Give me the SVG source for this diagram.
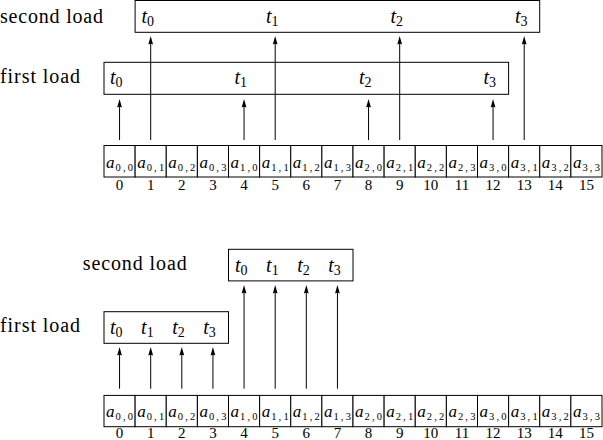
<svg xmlns="http://www.w3.org/2000/svg" width="603" height="440" viewBox="0 0 603 440">
<defs>
<style>
text{font-family:'Liberation Serif','DejaVu Serif',Tinos,'Nimbus Roman','Times New Roman',Times,serif;fill:#000}
.bg{fill:#fff}
.box{fill:none;stroke:#000;stroke-width:1}
.cellr{fill:#fff;stroke:#000;stroke-width:1}
.lbl{font-size:20px}
.t{font-style:italic;font-size:20px}
.ts{font-style:normal;font-size:14px}
.a{font-style:italic;font-size:17px}
.as{font-size:10.5px}
.num{font-size:15px;text-anchor:middle}
.arr{stroke:#000;stroke-width:1;fill:none;marker-end:url(#ah)}
</style>
<marker id="ah" markerUnits="userSpaceOnUse" markerWidth="12" markerHeight="8" viewBox="-5 -4 10 8" refX="0" refY="0" orient="auto">
<path d="M4,0 L-4.5,-2.4 Q-3,0 -4.5,2.4 Z" fill="#000"/>
</marker>
</defs>
<rect class="bg" x="0" y="0" width="603" height="440"/>

<g font-family="Liberation Serif, serif">
<!-- ===== TOP DIAGRAM ===== -->
<g id="top-label-second"><text class="lbl" x="0" y="22.7" textLength="103" lengthAdjust="spacing">second load</text></g>
<g id="top-label-first"><text class="lbl" x="0" y="82.7" textLength="80" lengthAdjust="spacing">first load</text></g>

<g id="top-second-load">
<rect class="box" x="135.1" y="0.5" width="404.6" height="31.8"/>
<text class="t" x="141.5" y="22.7">t<tspan class="ts" dy="3">0</tspan></text>
<text class="t" x="266" y="22.7">t<tspan class="ts" dy="3">1</tspan></text>
<text class="t" x="390.5" y="22.7">t<tspan class="ts" dy="3">2</tspan></text>
<text class="t" x="515" y="22.7">t<tspan class="ts" dy="3">3</tspan></text>
</g>

<g id="top-first-load">
<rect class="box" x="104" y="62.3" width="404.6" height="32"/>
<text class="t" x="110" y="84.3">t<tspan class="ts" dy="3">0</tspan></text>
<text class="t" x="234.5" y="84.3">t<tspan class="ts" dy="3">1</tspan></text>
<text class="t" x="359" y="84.3">t<tspan class="ts" dy="3">2</tspan></text>
<text class="t" x="483.5" y="84.3">t<tspan class="ts" dy="3">3</tspan></text>
</g>

<g id="top-connectors">
<line class="arr" x1="119.56" y1="140" x2="119.56" y2="103"/>
<line class="arr" x1="244.06" y1="140" x2="244.06" y2="103"/>
<line class="arr" x1="368.56" y1="140" x2="368.56" y2="103"/>
<line class="arr" x1="493.06" y1="140" x2="493.06" y2="103"/>
<line class="arr" x1="150.69" y1="140" x2="150.69" y2="40"/>
<line class="arr" x1="275.19" y1="140" x2="275.19" y2="40"/>
<line class="arr" x1="399.69" y1="140" x2="399.69" y2="40"/>
<line class="arr" x1="524.19" y1="140" x2="524.19" y2="40"/>
</g>

<g id="top-array">
<g id="top-cell-0"><rect class="cellr" x="104" y="145.5" width="31.125" height="31.5"/><text class="a" x="106" y="167.5">a</text><text class="as" x="115.5" y="170.5" textLength="17.5" lengthAdjust="spacing">0,0</text><text class="num" x="119.56" y="190.3">0</text></g>
<g id="top-cell-1"><rect class="cellr" x="135.125" y="145.5" width="31.125" height="31.5"/><text class="a" x="137.125" y="167.5">a</text><text class="as" x="146.625" y="170.5" textLength="17.5" lengthAdjust="spacing">0,1</text><text class="num" x="150.69" y="190.3">1</text></g>
<g id="top-cell-2"><rect class="cellr" x="166.25" y="145.5" width="31.125" height="31.5"/><text class="a" x="168.25" y="167.5">a</text><text class="as" x="177.75" y="170.5" textLength="17.5" lengthAdjust="spacing">0,2</text><text class="num" x="181.81" y="190.3">2</text></g>
<g id="top-cell-3"><rect class="cellr" x="197.375" y="145.5" width="31.125" height="31.5"/><text class="a" x="199.375" y="167.5">a</text><text class="as" x="208.875" y="170.5" textLength="17.5" lengthAdjust="spacing">0,3</text><text class="num" x="212.94" y="190.3">3</text></g>
<g id="top-cell-4"><rect class="cellr" x="228.5" y="145.5" width="31.125" height="31.5"/><text class="a" x="230.5" y="167.5">a</text><text class="as" x="240" y="170.5" textLength="17.5" lengthAdjust="spacing">1,0</text><text class="num" x="244.06" y="190.3">4</text></g>
<g id="top-cell-5"><rect class="cellr" x="259.625" y="145.5" width="31.125" height="31.5"/><text class="a" x="261.625" y="167.5">a</text><text class="as" x="271.125" y="170.5" textLength="17.5" lengthAdjust="spacing">1,1</text><text class="num" x="275.19" y="190.3">5</text></g>
<g id="top-cell-6"><rect class="cellr" x="290.75" y="145.5" width="31.125" height="31.5"/><text class="a" x="292.75" y="167.5">a</text><text class="as" x="302.25" y="170.5" textLength="17.5" lengthAdjust="spacing">1,2</text><text class="num" x="306.31" y="190.3">6</text></g>
<g id="top-cell-7"><rect class="cellr" x="321.875" y="145.5" width="31.125" height="31.5"/><text class="a" x="323.875" y="167.5">a</text><text class="as" x="333.375" y="170.5" textLength="17.5" lengthAdjust="spacing">1,3</text><text class="num" x="337.44" y="190.3">7</text></g>
<g id="top-cell-8"><rect class="cellr" x="353" y="145.5" width="31.125" height="31.5"/><text class="a" x="355" y="167.5">a</text><text class="as" x="364.5" y="170.5" textLength="17.5" lengthAdjust="spacing">2,0</text><text class="num" x="368.56" y="190.3">8</text></g>
<g id="top-cell-9"><rect class="cellr" x="384.125" y="145.5" width="31.125" height="31.5"/><text class="a" x="386.125" y="167.5">a</text><text class="as" x="395.625" y="170.5" textLength="17.5" lengthAdjust="spacing">2,1</text><text class="num" x="399.69" y="190.3">9</text></g>
<g id="top-cell-10"><rect class="cellr" x="415.25" y="145.5" width="31.125" height="31.5"/><text class="a" x="417.25" y="167.5">a</text><text class="as" x="426.75" y="170.5" textLength="17.5" lengthAdjust="spacing">2,2</text><text class="num" x="430.81" y="190.3">10</text></g>
<g id="top-cell-11"><rect class="cellr" x="446.375" y="145.5" width="31.125" height="31.5"/><text class="a" x="448.375" y="167.5">a</text><text class="as" x="457.875" y="170.5" textLength="17.5" lengthAdjust="spacing">2,3</text><text class="num" x="461.94" y="190.3">11</text></g>
<g id="top-cell-12"><rect class="cellr" x="477.5" y="145.5" width="31.125" height="31.5"/><text class="a" x="479.5" y="167.5">a</text><text class="as" x="489" y="170.5" textLength="17.5" lengthAdjust="spacing">3,0</text><text class="num" x="493.06" y="190.3">12</text></g>
<g id="top-cell-13"><rect class="cellr" x="508.625" y="145.5" width="31.125" height="31.5"/><text class="a" x="510.625" y="167.5">a</text><text class="as" x="520.125" y="170.5" textLength="17.5" lengthAdjust="spacing">3,1</text><text class="num" x="524.19" y="190.3">13</text></g>
<g id="top-cell-14"><rect class="cellr" x="539.75" y="145.5" width="31.125" height="31.5"/><text class="a" x="541.75" y="167.5">a</text><text class="as" x="551.25" y="170.5" textLength="17.5" lengthAdjust="spacing">3,2</text><text class="num" x="555.31" y="190.3">14</text></g>
<g id="top-cell-15"><rect class="cellr" x="570.875" y="145.5" width="31.125" height="31.5"/><text class="a" x="572.875" y="167.5">a</text><text class="as" x="582.375" y="170.5" textLength="17.5" lengthAdjust="spacing">3,3</text><text class="num" x="586.44" y="190.3">15</text></g>
</g>

<!-- ===== BOTTOM DIAGRAM ===== -->
<g id="bot-label-second"><text class="lbl" x="82.7" y="270" textLength="104" lengthAdjust="spacing">second load</text></g>
<g id="bot-label-first"><text class="lbl" x="0" y="332" textLength="80" lengthAdjust="spacing">first load</text></g>

<g id="bot-second-load">
<rect class="box" x="228.5" y="249.3" width="124.5" height="31.6"/>
<text class="t" x="235" y="271.5">t<tspan class="ts" dy="3">0</tspan></text>
<text class="t" x="266.1" y="271.5">t<tspan class="ts" dy="3">1</tspan></text>
<text class="t" x="297.2" y="271.5">t<tspan class="ts" dy="3">2</tspan></text>
<text class="t" x="328.3" y="271.5">t<tspan class="ts" dy="3">3</tspan></text>
</g>

<g id="bot-first-load">
<rect class="box" x="104" y="311.7" width="124.5" height="31.6"/>
<text class="t" x="110" y="334">t<tspan class="ts" dy="3">0</tspan></text>
<text class="t" x="141.1" y="334">t<tspan class="ts" dy="3">1</tspan></text>
<text class="t" x="172.2" y="334">t<tspan class="ts" dy="3">2</tspan></text>
<text class="t" x="203.3" y="334">t<tspan class="ts" dy="3">3</tspan></text>
</g>

<g id="bot-connectors">
<line class="arr" x1="119.56" y1="388.7" x2="119.56" y2="351"/>
<line class="arr" x1="150.69" y1="388.7" x2="150.69" y2="351"/>
<line class="arr" x1="181.81" y1="388.7" x2="181.81" y2="351"/>
<line class="arr" x1="212.94" y1="388.7" x2="212.94" y2="351"/>
<line class="arr" x1="244.06" y1="388.7" x2="244.06" y2="289"/>
<line class="arr" x1="275.19" y1="388.7" x2="275.19" y2="289"/>
<line class="arr" x1="306.31" y1="388.7" x2="306.31" y2="289"/>
<line class="arr" x1="337.44" y1="388.7" x2="337.44" y2="289"/>
</g>

<g id="bot-array">
<g id="bot-cell-0"><rect class="cellr" x="104" y="395.4" width="31.125" height="31.3"/><text class="a" x="106" y="417.3">a</text><text class="as" x="115.5" y="420.3" textLength="17.5" lengthAdjust="spacing">0,0</text><text class="num" x="119.56" y="437.6">0</text></g>
<g id="bot-cell-1"><rect class="cellr" x="135.125" y="395.4" width="31.125" height="31.3"/><text class="a" x="137.125" y="417.3">a</text><text class="as" x="146.625" y="420.3" textLength="17.5" lengthAdjust="spacing">0,1</text><text class="num" x="150.69" y="437.6">1</text></g>
<g id="bot-cell-2"><rect class="cellr" x="166.25" y="395.4" width="31.125" height="31.3"/><text class="a" x="168.25" y="417.3">a</text><text class="as" x="177.75" y="420.3" textLength="17.5" lengthAdjust="spacing">0,2</text><text class="num" x="181.81" y="437.6">2</text></g>
<g id="bot-cell-3"><rect class="cellr" x="197.375" y="395.4" width="31.125" height="31.3"/><text class="a" x="199.375" y="417.3">a</text><text class="as" x="208.875" y="420.3" textLength="17.5" lengthAdjust="spacing">0,3</text><text class="num" x="212.94" y="437.6">3</text></g>
<g id="bot-cell-4"><rect class="cellr" x="228.5" y="395.4" width="31.125" height="31.3"/><text class="a" x="230.5" y="417.3">a</text><text class="as" x="240" y="420.3" textLength="17.5" lengthAdjust="spacing">1,0</text><text class="num" x="244.06" y="437.6">4</text></g>
<g id="bot-cell-5"><rect class="cellr" x="259.625" y="395.4" width="31.125" height="31.3"/><text class="a" x="261.625" y="417.3">a</text><text class="as" x="271.125" y="420.3" textLength="17.5" lengthAdjust="spacing">1,1</text><text class="num" x="275.19" y="437.6">5</text></g>
<g id="bot-cell-6"><rect class="cellr" x="290.75" y="395.4" width="31.125" height="31.3"/><text class="a" x="292.75" y="417.3">a</text><text class="as" x="302.25" y="420.3" textLength="17.5" lengthAdjust="spacing">1,2</text><text class="num" x="306.31" y="437.6">6</text></g>
<g id="bot-cell-7"><rect class="cellr" x="321.875" y="395.4" width="31.125" height="31.3"/><text class="a" x="323.875" y="417.3">a</text><text class="as" x="333.375" y="420.3" textLength="17.5" lengthAdjust="spacing">1,3</text><text class="num" x="337.44" y="437.6">7</text></g>
<g id="bot-cell-8"><rect class="cellr" x="353" y="395.4" width="31.125" height="31.3"/><text class="a" x="355" y="417.3">a</text><text class="as" x="364.5" y="420.3" textLength="17.5" lengthAdjust="spacing">2,0</text><text class="num" x="368.56" y="437.6">8</text></g>
<g id="bot-cell-9"><rect class="cellr" x="384.125" y="395.4" width="31.125" height="31.3"/><text class="a" x="386.125" y="417.3">a</text><text class="as" x="395.625" y="420.3" textLength="17.5" lengthAdjust="spacing">2,1</text><text class="num" x="399.69" y="437.6">9</text></g>
<g id="bot-cell-10"><rect class="cellr" x="415.25" y="395.4" width="31.125" height="31.3"/><text class="a" x="417.25" y="417.3">a</text><text class="as" x="426.75" y="420.3" textLength="17.5" lengthAdjust="spacing">2,2</text><text class="num" x="430.81" y="437.6">10</text></g>
<g id="bot-cell-11"><rect class="cellr" x="446.375" y="395.4" width="31.125" height="31.3"/><text class="a" x="448.375" y="417.3">a</text><text class="as" x="457.875" y="420.3" textLength="17.5" lengthAdjust="spacing">2,3</text><text class="num" x="461.94" y="437.6">11</text></g>
<g id="bot-cell-12"><rect class="cellr" x="477.5" y="395.4" width="31.125" height="31.3"/><text class="a" x="479.5" y="417.3">a</text><text class="as" x="489" y="420.3" textLength="17.5" lengthAdjust="spacing">3,0</text><text class="num" x="493.06" y="437.6">12</text></g>
<g id="bot-cell-13"><rect class="cellr" x="508.625" y="395.4" width="31.125" height="31.3"/><text class="a" x="510.625" y="417.3">a</text><text class="as" x="520.125" y="420.3" textLength="17.5" lengthAdjust="spacing">3,1</text><text class="num" x="524.19" y="437.6">13</text></g>
<g id="bot-cell-14"><rect class="cellr" x="539.75" y="395.4" width="31.125" height="31.3"/><text class="a" x="541.75" y="417.3">a</text><text class="as" x="551.25" y="420.3" textLength="17.5" lengthAdjust="spacing">3,2</text><text class="num" x="555.31" y="437.6">14</text></g>
<g id="bot-cell-15"><rect class="cellr" x="570.875" y="395.4" width="31.125" height="31.3"/><text class="a" x="572.875" y="417.3">a</text><text class="as" x="582.375" y="420.3" textLength="17.5" lengthAdjust="spacing">3,3</text><text class="num" x="586.44" y="437.6">15</text></g>
</g>
</g>
</svg>
